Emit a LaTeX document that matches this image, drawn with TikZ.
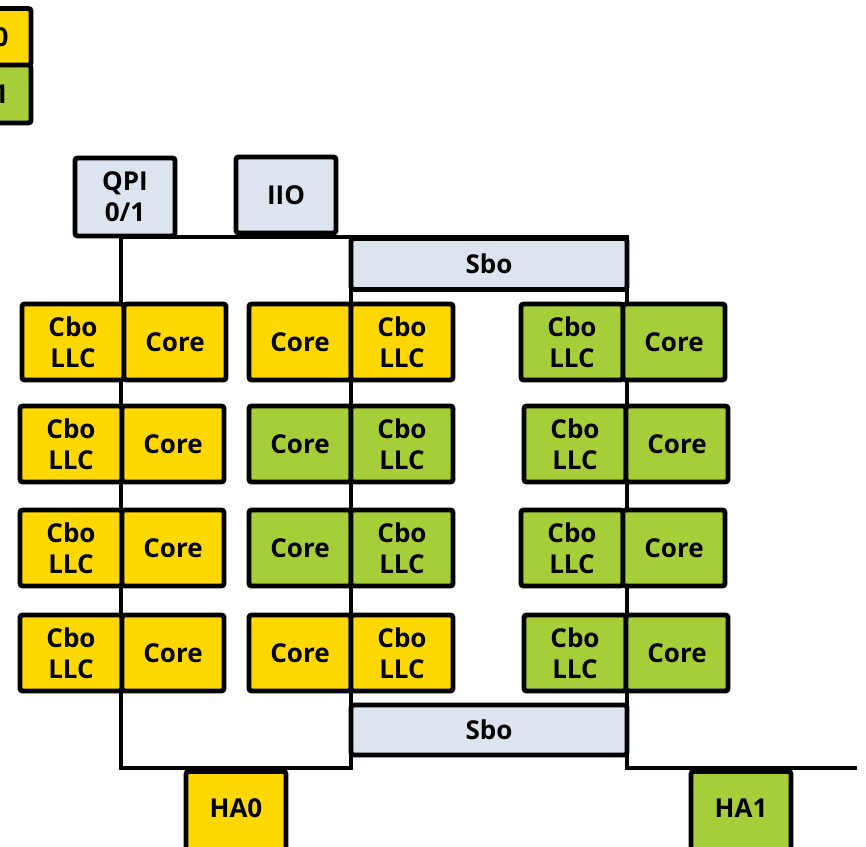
\documentclass[tikz,border=0pt]{standalone}
\usepackage{fontspec}
\setmainfont{Open Sans}
\usepackage{xcolor}
\usepackage{tikz}
\usetikzlibrary{positioning}

\definecolor{hayellow}{RGB}{255,216,0}
\definecolor{hagreen}{RGB}{166,206,57}
\definecolor{sboblue}{RGB}{220,228,240}
\newcommand{\blkfont}{\fontsize{14.8}{17.6}\selectfont\bfseries}

\begin{document}
\begin{tikzpicture}[
    x=0.02cm, y=-0.02cm,
    blk/.style={rectangle, draw=black, line width=2.8pt, fill=#1, minimum width=2.04cm, minimum height=1.52cm, align=center, rounded corners=1.5pt, inner sep=0pt, font=\blkfont},
    blk/.default=hayellow,
    ring/.style={line width=2.6pt, line join=miter},
  ]

    % Frame of the picture
    \useasboundingbox (0,0) rectangle (866,847);
    \clip (0,0) rectangle (866,847);

    % Legend (cut at the left edge)
    \node[blk=hayellow, minimum width=2cm, minimum height=1.14cm, label={[font=\blkfont, xshift=0.4cm]center:0}] (leg0) at (-19,37) {};
    \node[blk=hagreen, minimum width=2cm, minimum height=1.16cm, label={[font=\blkfont, xshift=0.4cm]center:1}] (leg1) at (-19,94) {};

    % Ring corners
    \coordinate (tl) at (121,237);
    \coordinate (tm) at (351,237);
    \coordinate (tr) at (627,237);
    \coordinate (bl) at (121,768);
    \coordinate (bm) at (351,768);
    \coordinate (br) at (627,768);
    \coordinate (bx) at (857,768);

    % Rings
    \draw[ring] (bx) -- (br) -- (tr) -- (tl) -- (bl) -- (bm) -- (tm);

    % Uncore blocks
    \node[blk=sboblue, minimum width=2cm, minimum height=1.56cm] (qpi) at (125,197) {QPI\\0/1};
    \node[blk=sboblue, minimum width=2cm, minimum height=1.52cm] (iio) at (286,195) {IIO};
    \node[blk=sboblue, minimum width=5.52cm, minimum height=1.02cm] (sbotop) at (489,264) {Sbo};
    \node[blk=sboblue, minimum width=5.52cm, minimum height=1.0cm] (sbobot) at (489,730) {Sbo};

    % Row 1
    \node[blk=hayellow] (l1cbo) at (73,342) {Cbo\\LLC};
    \node[blk=hayellow] (l1core) at (175,342) {Core};
    \node[blk=hayellow] (m1core) at (300,342) {Core};
    \node[blk=hayellow] (m1cbo) at (402,342) {Cbo\\LLC};
    \node[blk=hagreen] (r1cbo) at (572,342) {Cbo\\LLC};
    \node[blk=hagreen] (r1core) at (674,342) {Core};

    % Row 2
    \node[blk=hayellow] (l2cbo) at (71,444) {Cbo\\LLC};
    \node[blk=hayellow] (l2core) at (173,444) {Core};
    \node[blk=hagreen] (m2core) at (300,444) {Core};
    \node[blk=hagreen] (m2cbo) at (402,444) {Cbo\\LLC};
    \node[blk=hagreen] (r2cbo) at (575,444) {Cbo\\LLC};
    \node[blk=hagreen] (r2core) at (677,444) {Core};

    % Row 3
    \node[blk=hayellow] (l3cbo) at (71,548) {Cbo\\LLC};
    \node[blk=hayellow] (l3core) at (173,548) {Core};
    \node[blk=hagreen] (m3core) at (300,548) {Core};
    \node[blk=hagreen] (m3cbo) at (402,548) {Cbo\\LLC};
    \node[blk=hagreen] (r3cbo) at (572,548) {Cbo\\LLC};
    \node[blk=hagreen] (r3core) at (674,548) {Core};

    % Row 4
    \node[blk=hayellow] (l4cbo) at (71,653) {Cbo\\LLC};
    \node[blk=hayellow] (l4core) at (173,653) {Core};
    \node[blk=hayellow] (m4core) at (300,653) {Core};
    \node[blk=hayellow] (m4cbo) at (402,653) {Cbo\\LLC};
    \node[blk=hagreen] (r4cbo) at (575,653) {Cbo\\LLC};
    \node[blk=hagreen] (r4core) at (677,653) {Core};

    % Home agents (cut at the bottom edge)
    \node[blk=hayellow, minimum width=2cm, minimum height=2cm, anchor=north, label={[font=\blkfont, yshift=0.26cm]center:HA0}] (ha0) at (236,769) {};
    \node[blk=hagreen, minimum width=2cm, minimum height=2cm, anchor=north, label={[font=\blkfont, yshift=0.26cm]center:HA1}] (ha1) at (741,769) {};

  \end{tikzpicture}
\end{document}
